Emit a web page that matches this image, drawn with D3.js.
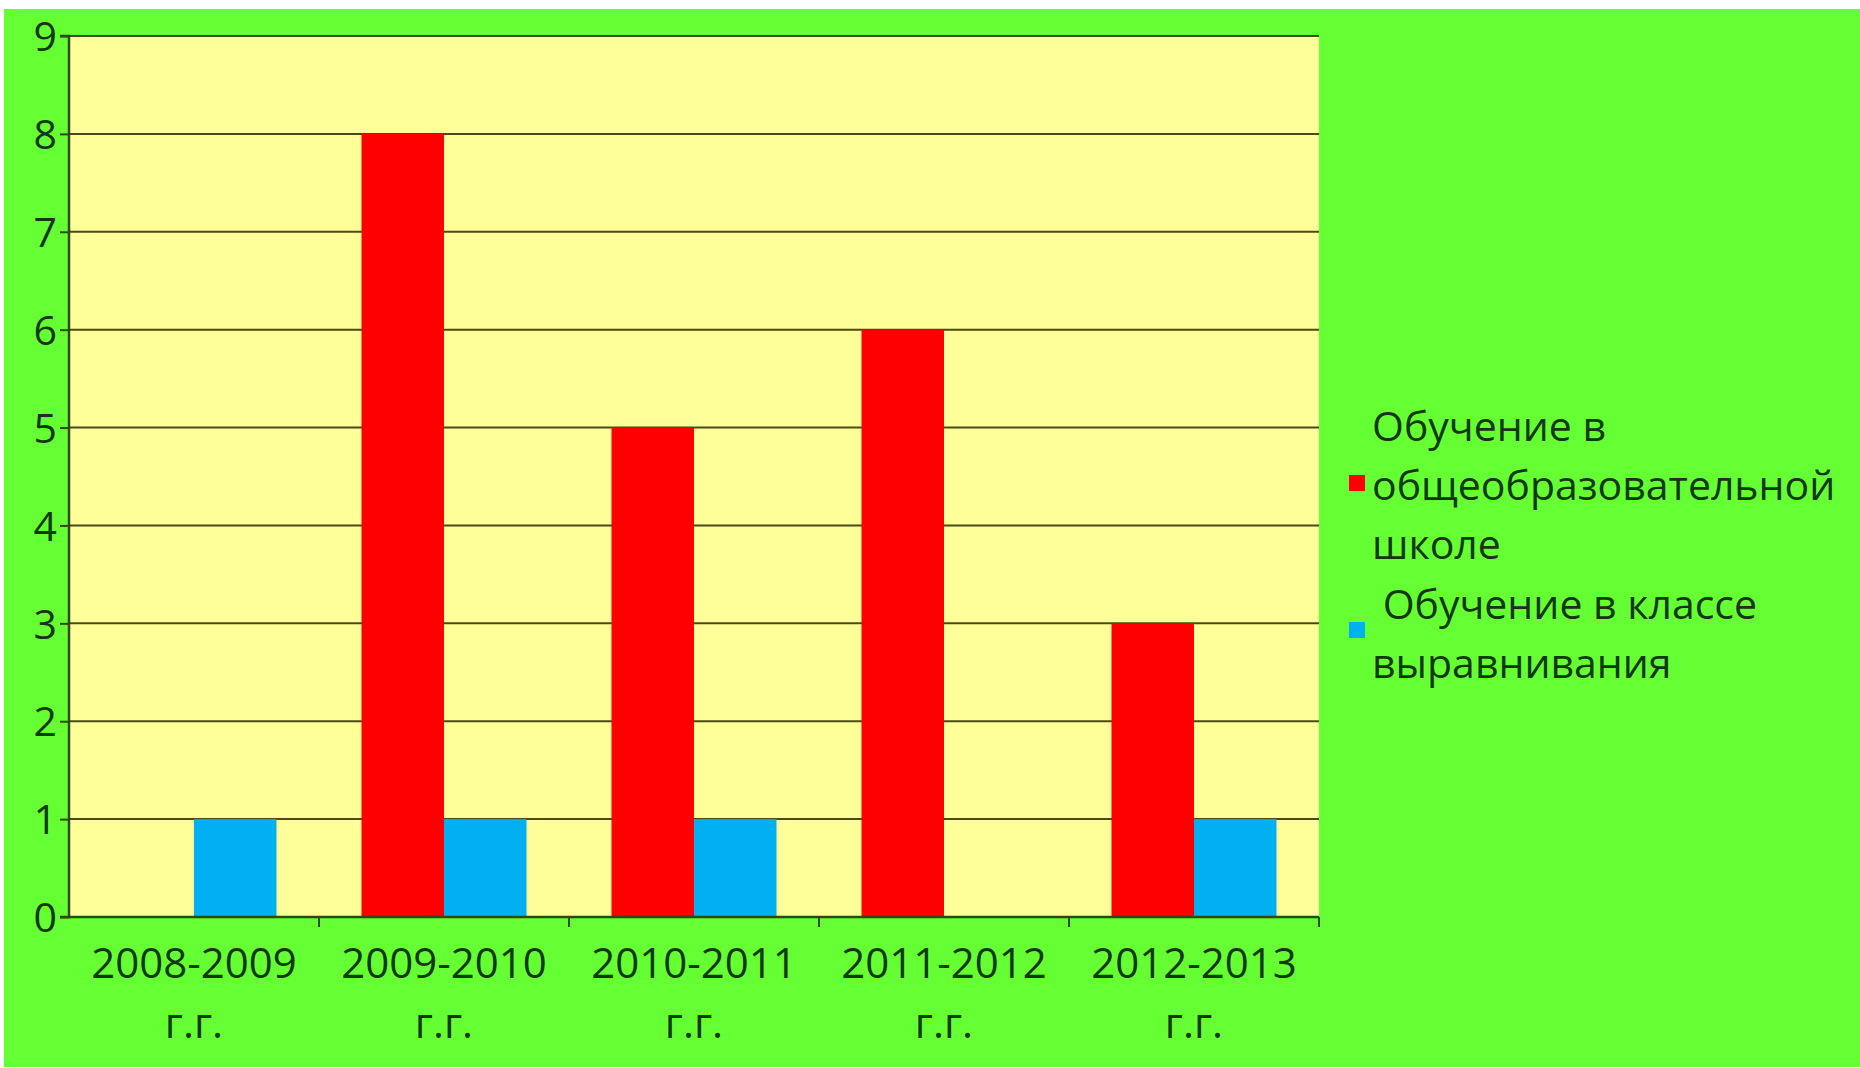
<!DOCTYPE html>
<html><head><meta charset="utf-8">
<script src="https://cdn.jsdelivr.net/npm/d3@7"></script>
<style>html,body{margin:0;padding:0;background:#fff;}svg{display:block;}</style>
</head><body>
<svg id="chart" width="1860" height="1068"></svg>
<script>
const categories = ["2008-2009 г.г.", "2009-2010 г.г.", "2010-2011 г.г.", "2011-2012 г.г.", "2012-2013 г.г."];
const categoryLines = [["2008-2009","г.г."],["2009-2010","г.г."],["2010-2011","г.г."],["2011-2012","г.г."],["2012-2013","г.г."]];
const seriesNames = ["Обучение в общеобразовательной школе", "Обучение в классе выравнивания"];
const seriesGeneral = [0, 8, 5, 6, 3];
const seriesAlign = [1, 1, 1, 0, 1];
const seriesColors = ["#ff0000", "#00b0f0"];
const yTicks = [0,1,2,3,4,5,6,7,8,9];
const legendLines = [["Обучение в", "общеобразовательной", "школе"], [" Обучение в классе", "выравнивания"]];

(function(){
const svg = d3.select("#chart");
const font = "'Open Sans', sans-serif";
const textColor = "#10380c";

svg.append("rect").attr("x",4).attr("y",9).attr("width",1856).attr("height",1058).attr("fill","#66ff33");

const pL = 69, pR = 1319, pT = 36, pB = 917;
svg.append("rect").attr("x",pL).attr("y",pT).attr("width",pR-pL).attr("height",pB-pT).attr("fill","#ffff99");

const x0 = d3.scaleBand().domain(categories).range([pL,pR]).padding(0);
const x1 = d3.scaleBand().domain([0,1]).range([x0.bandwidth()*0.17, x0.bandwidth()*0.83]).padding(0);
const y = d3.scaleLinear().domain([0,9]).range([pB,pT]);

svg.append("g").selectAll("line").data(yTicks.filter(d=>d>0)).join("line")
  .attr("x1",pL).attr("x2",pR).attr("y1",d=>y(d)).attr("y2",d=>y(d))
  .attr("stroke","#4a4a18").attr("stroke-width",2);

const data = categories.map((c,i)=>({c, vals:[seriesGeneral[i], seriesAlign[i]]}));
const g = svg.append("g");
data.forEach(d=>{
  d.vals.forEach((v,k)=>{
    if (v<=0) return;
    g.append("rect").attr("x",x0(d.c)+x1(k)).attr("y",y(v)).attr("width",x1.bandwidth()).attr("height",y(0)-y(v)).attr("fill",seriesColors[k]);
  });
});

const yAxis = d3.axisLeft(y).tickValues(yTicks).tickSize(9).tickPadding(5).tickFormat(d3.format("d"));
const ya = svg.append("g").attr("transform",`translate(${pL},0)`).call(yAxis);
ya.select(".domain").attr("stroke","#2f4a10").attr("stroke-width",2.5).attr("d",`M-9,${pT}H0V${pB}H-9`);
ya.selectAll(".tick line").attr("stroke","#2f4a10").attr("stroke-width",2);
ya.selectAll(".tick text").attr("font-family",font).attr("font-size",41).attr("fill",textColor).attr("dy","0.36em").attr("x",-12);

const xa = svg.append("g");
xa.append("line").attr("x1",pL).attr("x2",pR).attr("y1",pB).attr("y2",pB).attr("stroke","#2f4a10").attr("stroke-width",2.5);
const bounds = categories.map(c=>x0(c)+x0.bandwidth());
xa.selectAll("line.tk").data(bounds).join("line").attr("class","tk")
  .attr("x1",d=>d).attr("x2",d=>d).attr("y1",pB).attr("y2",pB+10).attr("stroke","#2f4a10").attr("stroke-width",2);
categories.forEach((c,i)=>{
  const cx = x0(c)+x0.bandwidth()/2;
  categoryLines[i].forEach((t,j)=>{
    xa.append("text").attr("x",cx).attr("y",963+j*60).attr("dy","0.36em").attr("text-anchor","middle")
      .attr("font-family",font).attr("font-size",42).attr("fill",textColor).text(t);
  });
});

const leg = svg.append("g");
const lx = 1372;
const lineYs = [[426,485,544],[604,663]];
legendLines.forEach((lines,k)=>{
  lines.forEach((t,j)=>{
    leg.append("text").attr("x",lx).attr("y",lineYs[k][j]).attr("dy","0.36em")
      .attr("font-family",font).attr("font-size",41).attr("fill",textColor).style("white-space","pre").text(t);
  });
});
leg.append("rect").attr("x",1349).attr("y",475).attr("width",16).attr("height",16).attr("fill",seriesColors[0]);
leg.append("rect").attr("x",1349).attr("y",622).attr("width",16).attr("height",16).attr("fill",seriesColors[1]);
})();
</script>
</body></html>
